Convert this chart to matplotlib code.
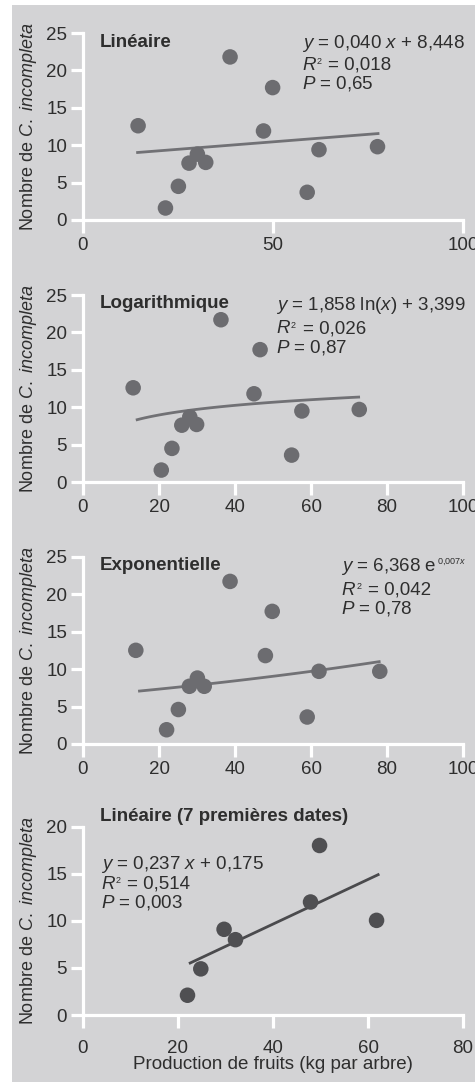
import matplotlib
matplotlib.use("Agg")
import matplotlib.pyplot as plt
from matplotlib.patches import Rectangle
import numpy as np

plt.rcParams['font.family'] = ['Liberation Sans', 'DejaVu Sans']
plt.rcParams['mathtext.fontset'] = 'custom'
plt.rcParams['mathtext.rm'] = 'Liberation Sans'
plt.rcParams['mathtext.it'] = 'Liberation Sans:italic'
plt.rcParams['mathtext.bf'] = 'Liberation Sans:bold'

# data (fruit production kg/tree, number of C. incompleta)
lin_x = [14.5, 21.7, 25.1, 27.9, 30.1, 32.3, 38.7, 47.5, 49.9, 59.0, 62.1, 77.5]
lin_y = [12.6, 1.6, 4.5, 7.6, 8.8, 7.7, 21.8, 11.9, 17.7, 3.7, 9.4, 9.8]

log_x = [13.2, 20.6, 23.4, 26.0, 28.1, 29.9, 36.3, 45.0, 46.6, 54.9, 57.6, 72.7]
log_y = [12.6, 1.6, 4.5, 7.6, 8.7, 7.7, 21.7, 11.8, 17.7, 3.6, 9.5, 9.7]

exp_x = [13.9, 22.0, 25.1, 28.0, 30.1, 31.9, 38.7, 48.0, 49.8, 59.0, 62.1, 78.1]
exp_y = [12.5, 1.9, 4.6, 7.7, 8.8, 7.7, 21.7, 11.8, 17.7, 3.6, 9.7, 9.7]

first7_x = [22.0, 24.8, 29.7, 32.1, 47.9, 49.8, 61.8]
first7_y = [2.1, 4.9, 9.1, 8.0, 12.0, 18.0, 10.05]

# fitted curves (coefficients printed on the figure)
lin_a, lin_b = 0.040, 8.448
log_a, log_b = 1.858, 3.399
exp_a, exp_b = 6.368, 0.007
f7_a, f7_b = 0.237, 0.175

bg = '#d3d3d5'
txt = '#2e2e2e'
fs = 13.5

fig = plt.figure(figsize=(4.75, 10.82), dpi=100)
fig.patches.append(Rectangle((12 / 475, 0), 1, 1 - 5 / 1082, transform=fig.transFigure,
                             facecolor=bg, edgecolor='none', zorder=-10))

left, width = 83 / 475, 380 / 475
rects = [(0.7967, 0.1728), (0.5545, 0.1728), (0.3124, 0.1731), (0.0619, 0.1741)]
axes = [fig.add_axes([left, b, width, h]) for b, h in rects]


def style(ax, xmax, xticks, ymax, yticks, xpad):
    ax.set_facecolor('none')
    ax.set_xlim(0, xmax)
    ax.set_ylim(0, ymax)
    ax.set_xticks(xticks)
    ax.set_yticks(yticks)
    for s in ['top', 'right']:
        ax.spines[s].set_visible(False)
    for s in ['left', 'bottom']:
        ax.spines[s].set_color('white')
        ax.spines[s].set_linewidth(2.3)
    ax.tick_params(axis='both', colors='white', width=2.3, length=9, labelsize=fs,
                   labelcolor=txt)
    ax.tick_params(axis='x', pad=xpad)
    ax.tick_params(axis='y', pad=2.5)
    ax.set_ylabel(r'Nombre de $\it{C.\ incompleta}$', fontsize=13, color=txt)
    ax.yaxis.set_label_coords(-0.117, 0.5)


def scatter_fit(ax, x, y, xs, ys, mcol, lcol):
    ax.plot(xs, ys, color=lcol, lw=2, zorder=2, solid_capstyle='butt')
    ax.scatter(x, y, s=125, color=mcol, edgecolors='none', zorder=3, clip_on=False)


def with_sup(ax, x, y, base, sup, rest=''):
    # text with a tiny superscript, like the original typesetting
    t = ax.text(x, y, base, fontsize=fs, color=txt, va='center', ha='left')
    ax.annotate(sup, xy=(1.0, 0.97), xycoords=t, fontsize=6.5, color=txt,
                va='top', ha='left')
    if rest:
        ax.annotate(rest, xy=(1, 0), xycoords=t, xytext=(8.5, 0),
                    textcoords='offset points', fontsize=fs, color=txt,
                    va='bottom', ha='left')
    return t


def eq(ax, x, ys, first, r2, p):
    if isinstance(first, tuple):
        with_sup(ax, x, ys[0], *first)
    else:
        ax.text(x, ys[0], first, fontsize=fs, color=txt, va='center', ha='left')
    with_sup(ax, x, ys[1], r'$R$', '2', '= ' + r2)
    ax.text(x, ys[2], r'$P$ = ' + p, fontsize=fs, color=txt, va='center', ha='left')


mcol, lcol = '#6c6c70', '#717175'

# Linear
ax = axes[0]
style(ax, 100, [0, 50, 100], 25, [0, 5, 10, 15, 20, 25], 3)
xs = np.linspace(14.0, 78.0, 50)
scatter_fit(ax, lin_x, lin_y, xs, lin_a * xs + lin_b, mcol, lcol)
ax.text(4.5, 23.7, 'Linéaire', fontsize=fs, fontweight='bold', color=txt, va='center')
eq(ax, 57.5, [23.66, 20.7, 18.3], r'$y$ = 0,040 $x$ + 8,448', '0,018', '0,65')

# Logarithmic
ax = axes[1]
style(ax, 100, [0, 20, 40, 60, 80, 100], 25, [0, 5, 10, 15, 20, 25], 3)
xs = np.linspace(13.9, 72.9, 50)
scatter_fit(ax, log_x, log_y, xs, log_a * np.log(xs) + log_b, mcol, lcol)
ax.text(4.4, 23.9, 'Logarithmique', fontsize=fs, fontweight='bold', color=txt, va='center')
eq(ax, 50.8, [23.66, 20.5, 18.0], r'$y$ = 1,858 ln($x$) + 3,399', '0,026', '0,87')

# Exponential
ax = axes[2]
style(ax, 100, [0, 20, 40, 60, 80, 100], 25, [0, 5, 10, 15, 20, 25], 3)
xs = np.linspace(14.5, 78.3, 50)
scatter_fit(ax, exp_x, exp_y, xs, exp_a * np.exp(exp_b * xs), mcol, lcol)
ax.text(4.4, 23.8, 'Exponentielle', fontsize=fs, fontweight='bold', color=txt, va='center')
eq(ax, 68.0, [23.67, 20.55, 18.1], (r'$y$ = 6,368 e', r'0,007$x$'), '0,042', '0,78')

# Linear, first 7 dates
ax = axes[3]
style(ax, 80, [0, 20, 40, 60, 80], 20, [0, 5, 10, 15, 20], 9)
xs = np.linspace(22.3, 62.4, 50)
scatter_fit(ax, first7_x, first7_y, xs, f7_a * xs + f7_b, '#4f4f52', '#4a4a4d')
ax.text(3.5, 21.06, 'Linéaire (7 premières dates)', fontsize=fs, fontweight='bold',
        color=txt, va='center', clip_on=False)
eq(ax, 3.7, [15.93, 13.9, 11.93], r'$y$ = 0,237 $x$ + 0,175', '0,514', '0,003')
ax.set_xlabel('Production de fruits (kg par arbre)', fontsize=fs, color=txt)
ax.xaxis.set_label_coords(0.5, -0.218)

fig.savefig('out.png', dpi=100)
